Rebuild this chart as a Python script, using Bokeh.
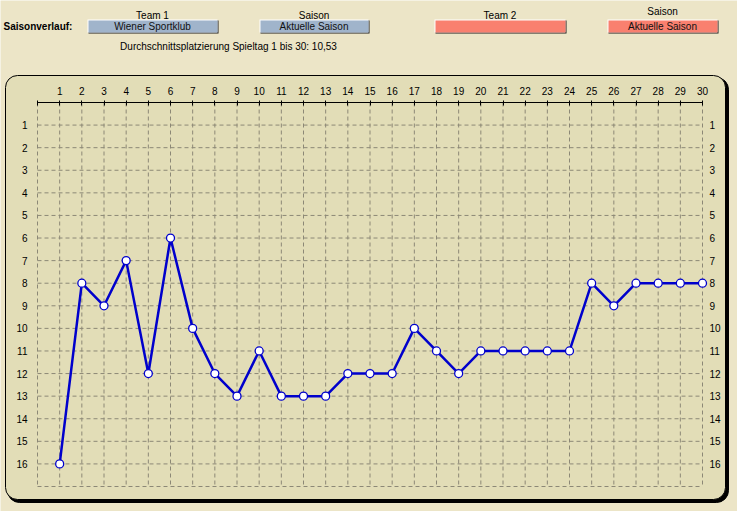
from bokeh.plotting import figure
from bokeh.models import Range1d, LinearAxis, FixedTicker, BoxAnnotation, Label
from bokeh.embed import file_html
from bokeh.resources import INLINE

# ---- data -------------------------------------------------------------
matchdays = list(range(1, 31))
positions = [16, 8, 9, 7, 12, 6, 10, 12, 13, 11,
             13, 13, 13, 12, 12, 12, 10, 11, 12, 11,
             11, 11, 11, 11, 8, 9, 8, 8, 8, 8]
x_ticks = list(range(0, 31))
y_ticks = list(range(1, 17))
grid_x = list(range(0, 31))
grid_y = list(range(1, 18))
x_lim = (0, 30)
y_lim = (0, 17)

header_title = "Saisonverlauf:"
selector_captions = ["Team 1", "Saison", "Team 2", "Saison"]
selector_values = ["Wiener Sportklub", "Aktuelle Saison", "", "Aktuelle Saison"]
average_text = "Durchschnittsplatzierung Spieltag 1 bis 30: 10,53"

# ---- styles / layout --------------------------------------------------
PAGE_BG = "#ECE5C7"
CHART_BG = "#E2DDB7"
GRID = "#8C8876"
LINE = "#0000CC"
BLUE_BOX = "#A0B4CB"
RED_BOX = "#F9806F"
FONT = "Liberation Sans"

W, H = 737, 511
# pixel placement of the plotting area inside the canvas
PX_LEFT, PX_RIGHT, PX_TOP, PX_BOTTOM = 37, 702, 102, 486
sx = (PX_RIGHT - PX_LEFT) / (x_lim[1] - x_lim[0])
sy = (PX_BOTTOM - PX_TOP) / (y_lim[1] - y_lim[0])
x_range = Range1d(x_lim[0] - PX_LEFT / sx, x_lim[0] + (W - PX_LEFT) / sx)
y_range = Range1d(y_lim[0] + (H - PX_TOP) / sy, y_lim[0] - PX_TOP / sy)

p = figure(width=W, height=H, x_range=x_range, y_range=y_range,
           x_axis_type=None, y_axis_type=None,
           output_backend="svg", toolbar_location=None,
           min_border=0, min_border_left=0, min_border_right=0,
           min_border_top=0, min_border_bottom=0)
p.background_fill_color = PAGE_BG
p.border_fill_color = PAGE_BG
p.outline_line_color = None

# rounded chart panel (shadow + panel), drawn below everything
def canvas_box(l, r, t, b, **kw):
    return BoxAnnotation(left=l, right=r, top=t, bottom=b,
                         left_units="canvas", right_units="canvas",
                         top_units="canvas", bottom_units="canvas",
                         fill_alpha=1, line_alpha=1, **kw)

p.add_layout(canvas_box(7, 728, 77, 502, fill_color="black", line_color="black",
                        border_radius=12, level="image"))
p.add_layout(canvas_box(5, 725, 75, 499, fill_color=CHART_BG, line_color="black",
                        line_width=1, border_radius=12, level="image"))

# dashed grid
p.segment(x0=grid_x, x1=grid_x, y0=[y_lim[0]] * len(grid_x), y1=[y_lim[1]] * len(grid_x),
          line_color=GRID, line_dash="4 3", line_width=1)
p.segment(x0=[x_lim[0]] * len(grid_y), x1=[x_lim[1]] * len(grid_y), y0=grid_y, y1=grid_y,
          line_color=GRID, line_dash="4 3", line_width=1)

# x axis on top of plotting area
xa = LinearAxis(fixed_location=y_lim[0], bounds=x_lim, ticker=FixedTicker(ticks=x_ticks),
                major_label_overrides={0: ""})
xa.minor_tick_line_color = None
xa.axis_line_color = "black"
xa.major_tick_line_color = "black"
xa.major_tick_in = 3
xa.major_tick_out = 2
xa.major_label_standoff = 6
xa.major_label_text_font = FONT
xa.major_label_text_font_size = "10px"
xa.major_label_text_color = "black"
p.add_layout(xa, "above")

# y axes left and right
ya = LinearAxis(fixed_location=x_lim[0])
ra = LinearAxis(fixed_location=x_lim[1])
p.add_layout(ya, "left")
p.add_layout(ra, "right")
for ax, so in ((ya, 10), (ra, 7)):
    ax.ticker = FixedTicker(ticks=y_ticks)
    ax.axis_line_color = None
    ax.major_tick_line_color = None
    ax.minor_tick_line_color = None
    ax.major_tick_out = 0
    ax.major_tick_in = 0
    ax.major_label_standoff = so
    ax.major_label_text_font = FONT
    ax.major_label_text_font_size = "10px"
    ax.major_label_text_color = "black"

# header
p.add_layout(Label(x=3, y=26, x_units="canvas", y_units="canvas", text=header_title,
                   text_font=FONT, text_font_size="10px", text_font_style="bold",
                   text_align="left", text_baseline="middle", text_color="black"))

boxes = [(87, 217, BLUE_BOX, 14.5), (259, 368, BLUE_BOX, 14.5),
         (434, 565, RED_BOX, 14.5), (607, 717, RED_BOX, 10.5)]
top, bottom = 19, 32
for (l, r, col, cap_y), cap, val in zip(boxes, selector_captions, selector_values):
    for (bl, br, bt, bb, c) in ((l + 1, r + 1, top + 1, bottom + 1, "#1A1A1A"),
                                (l, r, top, bottom, "#FFFFFF"),
                                (l + 1, r, top + 1, bottom, col)):
        p.add_layout(canvas_box(bl, br, bt, bb, fill_color=c, line_color=None))
    cx = (l + r) / 2
    p.add_layout(Label(x=cx, y=cap_y, x_units="canvas", y_units="canvas", text=cap,
                       text_font=FONT, text_font_size="10px", text_align="center",
                       text_baseline="middle", text_color="black"))
    if val:
        p.add_layout(Label(x=cx, y=26, x_units="canvas", y_units="canvas", text=val,
                           text_font=FONT, text_font_size="10px", text_align="center",
                           text_baseline="middle", text_color="#111111"))

p.add_layout(Label(x=228, y=46, x_units="canvas", y_units="canvas", text=average_text,
                   text_font=FONT, text_font_size="10px", text_align="center",
                   text_baseline="middle", text_color="black"))

# series
p.line(matchdays, positions, line_color=LINE, line_width=2.5)
p.scatter(matchdays, positions, size=8, fill_color="white", line_color=LINE,
          line_width=1.3)

open("out.html", "w").write(file_html(p, INLINE))
